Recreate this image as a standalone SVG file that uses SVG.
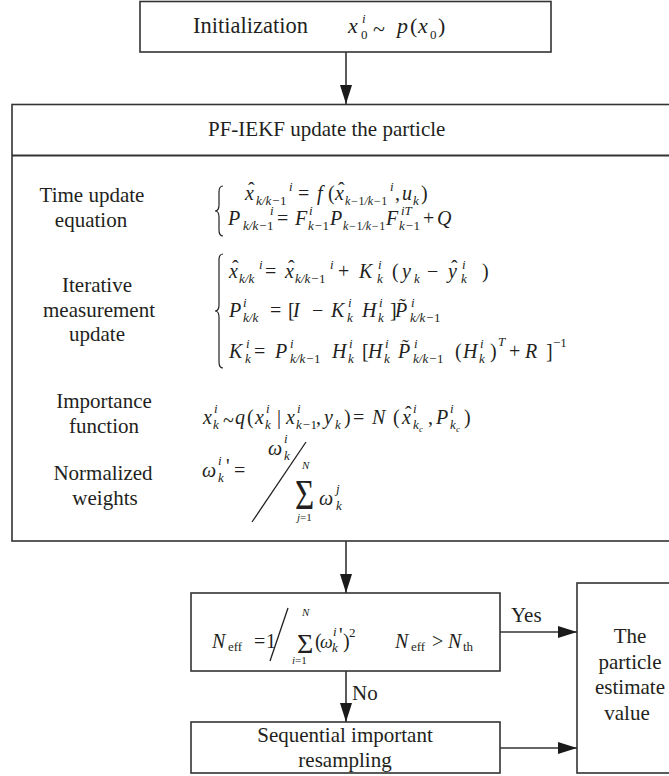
<svg xmlns="http://www.w3.org/2000/svg" width="669" height="776" viewBox="0 0 669 776">
<defs>
<marker id="ah" markerUnits="userSpaceOnUse" markerWidth="19" markerHeight="12" refX="19" refY="6" orient="auto"><path d="M0,0 L19,6 L0,12 Z" fill="#1a1a1a"/></marker>
</defs>
<style>
.box{fill:#fff;stroke:#333;stroke-width:1.6}
.ln{fill:none;stroke:#333;stroke-width:1.6}
.tx{font-family:"Liberation Serif","Times New Roman",serif;font-size:21px;fill:#231f20}
.c{text-anchor:middle}
.m{font-family:"Liberation Serif","Times New Roman",serif;font-size:20px;font-style:italic;fill:#231f20}
.u{font-style:normal}
.s{font-size:13px}
.s2{font-size:12px}
.ss{font-size:11px}
.xs{font-size:9px}
.br{fill:none;stroke:#231f20;stroke-width:1.2}
.sl{fill:none;stroke:#231f20;stroke-width:1.3}
</style>
<rect x="0" y="0" width="669" height="776" fill="#fff"/>

<g id="init">
<rect class="box" x="140" y="1.5" width="411" height="50.5"/>
<text class="tx" x="193" y="33" style="font-size:22.5px">Initialization</text>
<text class="m" style="font-size:22px"><tspan x="348" y="33">x</tspan><tspan class="s" x="362" y="23">i</tspan><tspan class="s u" x="361" y="39">0</tspan><tspan class="u" x="373" y="36">~</tspan><tspan x="397" y="33">p</tspan><tspan class="u" x="410" y="33">(</tspan><tspan x="418" y="33">x</tspan><tspan class="s u" x="430" y="39">0</tspan><tspan class="u" x="438" y="33">)</tspan></text>
</g>

<g id="pfiekf">
<rect class="box" x="12" y="104.5" width="670" height="436.5"/>
<line x1="12" y1="155.5" x2="682" y2="155.5" stroke="#333" stroke-width="2"/>
<text class="tx" x="208" y="136">PF-IEKF update the particle</text>

<text class="tx c" x="92" y="202">Time update</text>
<text class="tx c" x="91" y="227">equation</text>
<path class="br" d="M223,186 Q219,186 219,192 L219,205 Q219,211 215,211 Q219,211 219,217 L219,230 Q219,236 223,236"/>
<text class="m">
<tspan x="245" y="200">x</tspan><tspan class="u" x="248" y="197">ˆ</tspan><tspan class="s" x="256" y="205">k/k−<tspan class="u">1</tspan></tspan><tspan class="s" x="289" y="191">i</tspan><tspan class="u" x="298" y="200">=</tspan><tspan x="317" y="200">f</tspan><tspan class="u" x="328" y="200">(</tspan><tspan x="335" y="200">x</tspan><tspan class="u" x="338" y="197">ˆ</tspan><tspan class="s2" x="345" y="205">k−<tspan class="u">1</tspan>/k−<tspan class="u">1</tspan></tspan><tspan class="s" x="390" y="191">i</tspan><tspan class="u" x="395" y="200">,</tspan><tspan x="402" y="200">u</tspan><tspan class="s" x="413" y="205">k</tspan><tspan class="u" x="421" y="200">)</tspan>
</text>
<text class="m">
<tspan x="228" y="225">P</tspan><tspan class="s" x="243" y="230">k/k−<tspan class="u">1</tspan></tspan><tspan class="s" x="270" y="215">i</tspan><tspan class="u" x="277" y="225">=</tspan><tspan x="295" y="225">F</tspan><tspan class="s" x="309" y="215">i</tspan><tspan class="s" x="308" y="230">k−<tspan class="u">1</tspan></tspan><tspan x="330" y="225">P</tspan><tspan class="s2" x="343" y="230">k−<tspan class="u">1</tspan>/k−<tspan class="u">1</tspan></tspan><tspan x="386" y="225">F</tspan><tspan class="s" x="401" y="215">iT</tspan><tspan class="s" x="399" y="230">k−<tspan class="u">1</tspan></tspan><tspan class="u" x="423" y="225">+</tspan><tspan x="437" y="225">Q</tspan>
</text>

<text class="tx c" x="97" y="292">Iterative</text>
<text class="tx c" x="99" y="317">measurement</text>
<text class="tx c" x="97" y="341">update</text>
<path class="br" d="M223,254 Q219,254 219,260 L219,305 Q219,311 215,311 Q219,311 219,317 L219,362 Q219,368 223,368"/>
<text class="m">
<tspan x="229" y="278">x</tspan><tspan class="u" x="232" y="275">ˆ</tspan><tspan class="s" x="239" y="283">k/k</tspan><tspan class="s" x="259" y="269">i</tspan><tspan class="u" x="265" y="278">=</tspan><tspan x="285" y="278">x</tspan><tspan class="u" x="288" y="275">ˆ</tspan><tspan class="s" x="295" y="283">k/k−<tspan class="u">1</tspan></tspan><tspan class="s" x="330" y="269">i</tspan><tspan class="u" x="338" y="278">+</tspan><tspan x="359" y="278">K</tspan><tspan class="s" x="378" y="269">i</tspan><tspan class="s" x="377" y="283">k</tspan><tspan class="u" x="392" y="278">(</tspan><tspan x="402" y="278">y</tspan><tspan class="s" x="414" y="283">k</tspan><tspan class="u" x="427" y="278">−</tspan><tspan x="448" y="278">y</tspan><tspan class="u" x="451" y="275">ˆ</tspan><tspan class="s" x="462" y="269">i</tspan><tspan class="s" x="461" y="283">k</tspan><tspan class="u" x="482" y="278">)</tspan>
</text>
<text class="m">
<tspan x="229" y="317">P</tspan><tspan class="s" x="243" y="307">i</tspan><tspan class="s" x="243" y="322">k/k</tspan><tspan class="u" x="270" y="317">=</tspan><tspan class="u" x="288" y="317">[</tspan><tspan x="293" y="317">I</tspan><tspan class="u" x="312" y="317">−</tspan><tspan x="331" y="317">K</tspan><tspan class="s" x="348" y="307">i</tspan><tspan class="s" x="347" y="322">k</tspan><tspan x="362" y="317">H</tspan><tspan class="s" x="379" y="307">i</tspan><tspan class="s" x="378" y="322">k</tspan><tspan class="u" x="390" y="317">]</tspan><tspan x="395" y="317">P</tspan><tspan class="u" x="399" y="313">˜</tspan><tspan class="s" x="411" y="307">i</tspan><tspan class="s" x="410" y="322">k/k−<tspan class="u">1</tspan></tspan>
</text>
<text class="m">
<tspan x="229" y="358">K</tspan><tspan class="s" x="246" y="348">i</tspan><tspan class="s" x="245" y="363">k</tspan><tspan class="u" x="254" y="358">=</tspan><tspan x="275" y="358">P</tspan><tspan class="s" x="290" y="348">i</tspan><tspan class="s" x="290" y="363">k/k−<tspan class="u">1</tspan></tspan><tspan x="332" y="358">H</tspan><tspan class="s" x="349" y="348">i</tspan><tspan class="s" x="348" y="363">k</tspan><tspan class="u" x="362" y="358">[</tspan><tspan x="368" y="358">H</tspan><tspan class="s" x="385" y="348">i</tspan><tspan class="s" x="384" y="363">k</tspan><tspan x="398" y="358">P</tspan><tspan class="u" x="402" y="354">˜</tspan><tspan class="s" x="414" y="348">i</tspan><tspan class="s" x="413" y="363">k/k−<tspan class="u">1</tspan></tspan><tspan class="u" x="455" y="358">(</tspan><tspan x="463" y="358">H</tspan><tspan class="s" x="480" y="348">i</tspan><tspan class="s" x="479" y="363">k</tspan><tspan class="u" x="490" y="358">)</tspan><tspan class="s" x="498" y="346">T</tspan><tspan class="u" x="509" y="358">+</tspan><tspan x="525" y="358">R</tspan><tspan class="u" x="546" y="358">]</tspan><tspan class="s u" x="553" y="347">−1</tspan>
</text>

<text class="tx c" x="104" y="408">Importance</text>
<text class="tx c" x="104" y="433">function</text>
<text class="m">
<tspan x="203" y="424">x</tspan><tspan class="s" x="214" y="413">i</tspan><tspan class="s" x="213" y="429">k</tspan><tspan class="u" x="223" y="427">~</tspan><tspan x="235" y="424">q</tspan><tspan class="u" x="247" y="424">(</tspan><tspan x="255" y="424">x</tspan><tspan class="s" x="266" y="413">i</tspan><tspan class="s" x="265" y="429">k</tspan><tspan class="u" x="277" y="424">|</tspan><tspan x="286" y="424">x</tspan><tspan class="s" x="297" y="413">i</tspan><tspan class="s" x="296" y="429">k−<tspan class="u">1</tspan></tspan><tspan class="u" x="316" y="424">,</tspan><tspan x="324" y="424">y</tspan><tspan class="s" x="335" y="429">k</tspan><tspan class="u" x="344" y="424">)</tspan><tspan class="u" x="353" y="424">=</tspan><tspan x="372" y="424">N</tspan><tspan class="u" x="393" y="424">(</tspan><tspan x="402" y="424">x</tspan><tspan class="u" x="405" y="421">ˆ</tspan><tspan class="s" x="413" y="413">i</tspan><tspan class="s" x="413" y="429">k</tspan><tspan class="xs" x="419" y="432">c</tspan><tspan class="u" x="428" y="424">,</tspan><tspan x="436" y="424">P</tspan><tspan class="s" x="450" y="413">i</tspan><tspan class="s" x="450" y="429">k</tspan><tspan class="xs" x="456" y="432">c</tspan><tspan class="u" x="464" y="424">)</tspan>
</text>

<text class="tx c" x="103" y="480">Normalized</text>
<text class="tx c" x="105" y="505">weights</text>
<text class="m">
<tspan x="202" y="477">ω</tspan><tspan class="s" x="218" y="465">i</tspan><tspan class="s" x="218" y="482">k</tspan><tspan class="u" x="226" y="473">'</tspan><tspan class="u" x="234" y="477">=</tspan><tspan x="268" y="455">ω</tspan><tspan class="s" x="284" y="443">i</tspan><tspan class="s" x="284" y="460">k</tspan><tspan class="ss" x="302" y="469">N</tspan><tspan class="ss" x="297" y="521">j<tspan class="u">=1</tspan></tspan><tspan x="319" y="505">ω</tspan><tspan class="s" x="336" y="493">j</tspan><tspan class="s" x="336" y="510">k</tspan>
</text>
<line class="sl" x1="252" y1="522" x2="306" y2="442"/>
<text class="m u" transform="translate(295,509) scale(1,1.3)" style="font-size:33px" x="0" y="0">Σ</text>
</g>

<g id="decision">
<rect class="box" x="191" y="593" width="309" height="78"/>
<text class="m">
<tspan x="212" y="648">N</tspan><tspan class="s u" x="228" y="651">eff</tspan><tspan class="u" x="254" y="648">=</tspan><tspan class="u" x="266" y="648">1</tspan><tspan class="ss" x="302" y="616">N</tspan><tspan class="ss" x="292" y="664">i<tspan class="u">=1</tspan></tspan><tspan class="u" x="315" y="648">(</tspan><tspan x="320" y="648" style="font-size:18px">ω</tspan><tspan class="s" x="333" y="636">i</tspan><tspan class="s" x="332" y="652">k</tspan><tspan class="u" x="339" y="642">'</tspan><tspan class="u" x="343" y="648">)</tspan><tspan class="s u" x="349" y="637">2</tspan><tspan x="395" y="648">N</tspan><tspan class="s u" x="411" y="651">eff</tspan><tspan class="u" x="432" y="648">&gt;</tspan><tspan x="448" y="648">N</tspan><tspan class="s u" x="463" y="651">th</tspan>
</text>
<line class="sl" x1="270" y1="661" x2="288" y2="608"/>
<text class="m u" x="297" y="653" style="font-size:28px">Σ</text>
</g>

<g id="resampling">
<rect class="box" x="191" y="722" width="309" height="51"/>
<text class="tx c" x="345" y="742">Sequential important</text>
<text class="tx c" x="345" y="767">resampling</text>
</g>

<g id="estimate">
<rect class="box" x="577" y="583" width="130" height="190"/>
<text class="tx c" x="630" y="643">The</text>
<text class="tx c" x="630" y="669">particle</text>
<text class="tx c" x="630" y="694">estimate</text>
<text class="tx c" x="627" y="720">value</text>
</g>

<g id="connectors">
<line class="ln" x1="346" y1="52" x2="346" y2="104" marker-end="url(#ah)"/>
<line class="ln" x1="346" y1="541" x2="346" y2="593" marker-end="url(#ah)"/>
<line class="ln" x1="500" y1="632" x2="577" y2="632" marker-end="url(#ah)"/>
<line class="ln" x1="346" y1="671" x2="346" y2="722" marker-end="url(#ah)"/>
<line class="ln" x1="500" y1="748" x2="577" y2="748" marker-end="url(#ah)"/>
<text class="tx" x="511" y="622">Yes</text>
<text class="tx" x="352" y="700">No</text>
</g>
</svg>
